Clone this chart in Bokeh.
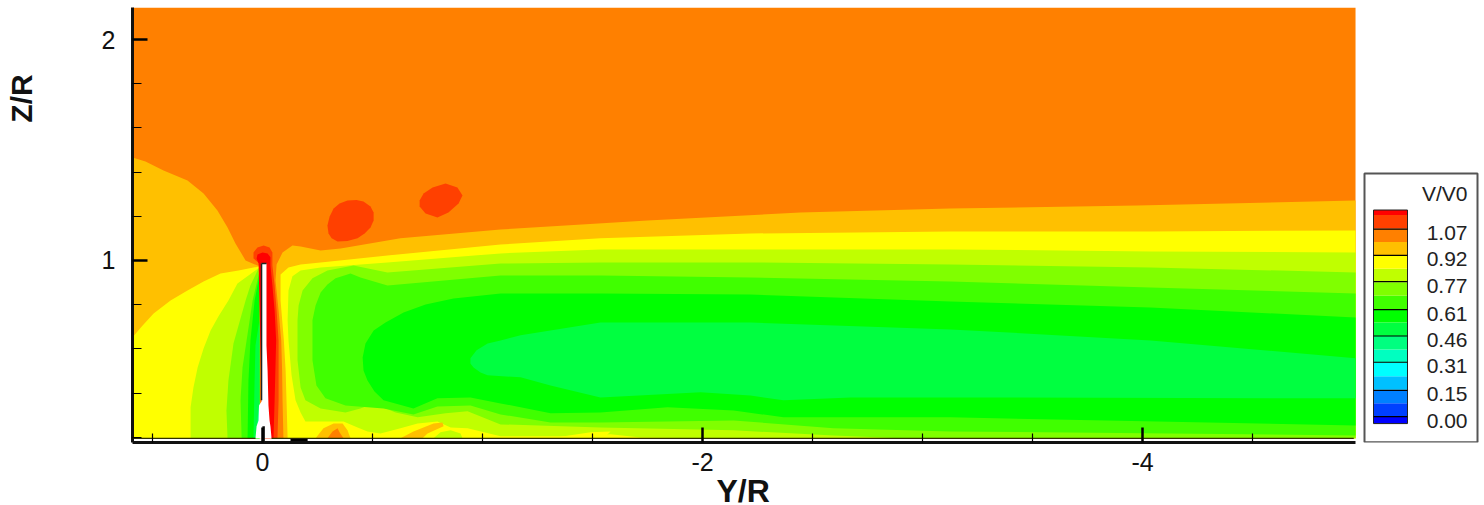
from bokeh.plotting import figure
from bokeh.layouts import row
from bokeh.models import Range1d, FixedTicker, Title
from bokeh.embed import file_html
from bokeh.resources import INLINE
import math

FONT = "Liberation Sans"
BOTTOM = 0.195
END = -4.968

# Colour levels of V/V0
LEGEND_TICKS = [0.00, 0.15, 0.31, 0.46, 0.61, 0.77, 0.92, 1.07]
LEVEL_EDGES = [-0.04, 0.0, 0.0767, 0.1533, 0.23, 0.3067, 0.3833, 0.46, 0.5367, 0.6133,
               0.69, 0.7667, 0.8433, 0.92, 0.9967, 1.0733, 1.15, 1.179]
LEVEL_COLORS = ["#0000ff", "#0040ff", "#0080ff", "#00c0ff", "#00ffff", "#00ffc0", "#00ff80", "#00ff40",
                "#00ff00", "#40ff00", "#80ff00", "#c0ff00", "#ffff00", "#ffc000", "#ff8000", "#ff4000", "#ff0000"]

# Contour regions, Y/R and Z/R, upstream of the blade
UP_C0_Y = [0.591, 0.532, 0.45, 0.341, 0.268, 0.205, 0.159, 0.123, 0.077, 0.023, 0.014, 0.014, 0.591]
UP_C0_Z = [1.466, 1.448, 1.407, 1.362, 1.303, 1.226, 1.149, 1.077, 1.0, 0.977, 0.977, BOTTOM, BOTTOM]
UP_Y_Y = [0.014, 0.109, 0.191, 0.268, 0.341, 0.418, 0.495, 0.545, 0.591, 0.591, 0.014]
UP_Y_Z = [0.973, 0.955, 0.941, 0.905, 0.864, 0.819, 0.76, 0.706, 0.652, BOTTOM, BOTTOM]
UP_LG_Y = [0.014, 0.114, 0.155, 0.2, 0.236, 0.268, 0.295, 0.314, 0.327, 0.327, 0.014]
UP_LG_Z = [0.968, 0.896, 0.819, 0.747, 0.683, 0.602, 0.516, 0.425, 0.335, BOTTOM, BOTTOM]
UP_80_Y = [0.018, 0.055, 0.077, 0.132, 0.155, 0.164, 0.159, 0.014]
UP_80_Z = [0.964, 0.887, 0.819, 0.624, 0.457, 0.321, BOTTOM, BOTTOM]
UP_40_Y = [0.014, 0.045, 0.091, 0.1, 0.095, 0.014]
UP_40_Z = [0.95, 0.819, 0.516, 0.367, BOTTOM, BOTTOM]
UP_00_Y = [0.014, 0.036, 0.055, 0.064, 0.068, 0.014]
UP_00_Z = [0.932, 0.819, 0.638, 0.457, BOTTOM, BOTTOM]
UP_G1_Y = [0.014, 0.032, 0.036, 0.041, 0.014]
UP_G1_Z = [0.729, 0.615, 0.457, BOTTOM, BOTTOM]
UP_G2_Y = [0.014, 0.023, 0.027, 0.014]
UP_G2_Z = [0.367, 0.276, BOTTOM, BOTTOM]

# Contour regions, wake behind the blade
W_C0_Y = [END, -3.977, -3.127, -2.445, -1.75, -1.082, -0.627, -0.355, -0.264, -0.173, -0.136, -0.091, -0.064,
          -0.059, -0.073, -0.085, -0.089, -0.091, -0.095, END]
W_C0_Z = [1.271, 1.249, 1.235, 1.217, 1.181, 1.14, 1.1, 1.054, 1.045, 1.063, 1.068, 1.036, 0.982,
          0.909, 0.774, 0.638, 0.502, 0.367, BOTTOM, BOTTOM]
W_Y_Y = [END, -4.036, -3.127, -2.218, -1.536, -1.082, -0.568, -0.264, -0.173, -0.118, -0.082, -0.082, -0.097,
         -0.105, -0.109, -0.114, END]
W_Y_Z = [1.136, 1.131, 1.131, 1.122, 1.1, 1.072, 1.023, 0.991, 0.982, 0.968, 0.937, 0.819, 0.638,
         0.502, 0.367, BOTTOM, BOTTOM]
W_LG_Y = [END, -4.036, -3.127, -2.218, -1.536, -1.082, -0.568, -0.264, -0.173, -0.136, -0.118, -0.114, -0.118,
          -0.132, -0.15, -0.173, -0.195, -0.264, -0.368, -0.432, -0.477, -0.536, -0.627, -0.705, -0.795, -0.855,
          -0.932, -1.082, -1.355, -1.582, -1.718, -1.991, END]
W_LG_Z = [1.036, 1.041, 1.05, 1.05, 1.05, 1.032, 0.991, 0.968, 0.955, 0.928, 0.864, 0.729, 0.638,
          0.48, 0.367, 0.312, 0.271, 0.271, 0.271, 0.244, 0.226, 0.217, 0.24, 0.262, 0.271, 0.244,
          0.24, 0.204, 0.204, 0.213, 0.199, BOTTOM, BOTTOM]
W_80_Y = [END, -4.036, -3.127, -2.218, -1.536, -1.082, -0.568, -0.414, -0.295, -0.227, -0.182, -0.164, -0.159, -0.159, -0.173,
          -0.195, -0.264, -0.377, -0.445, -0.505, -0.605, -0.705, -0.832, -0.932, -1.082, -1.536, -2.141,
          -2.595, -2.9, END]
W_80_Z = [0.946, 0.968, 0.982, 0.991, 0.991, 0.986, 0.946, 0.977, 0.955, 0.919, 0.864, 0.796, 0.729, 0.548, 0.425,
          0.367, 0.33, 0.312, 0.33, 0.353, 0.312, 0.29, 0.308, 0.317, 0.258, 0.244, 0.231,
          0.208, BOTTOM, BOTTOM]
W_40_Y = [END, -4.036, -3.127, -2.218, -1.536, -1.082, -0.568, -0.445, -0.4, -0.332, -0.295, -0.264, -0.241, -0.227, -0.227,
          -0.245, -0.286, -0.377, -0.55, -0.686, -0.795, -0.945, -1.082, -1.309, -1.536, -2.141, -2.595,
          -3.127, END]
W_40_Z = [0.851, 0.878, 0.905, 0.923, 0.932, 0.932, 0.887, 0.923, 0.941, 0.919, 0.891, 0.855, 0.796, 0.729, 0.548,
          0.434, 0.376, 0.344, 0.33, 0.303, 0.339, 0.344, 0.303, 0.267, 0.267, 0.276, 0.24,
          0.226, 0.208]
W_00_Y = [END, -4.036, -3.127, -2.218, -1.536, -1.082, -0.868, -0.741, -0.641, -0.559, -0.505, -0.468, -0.455, -0.459, -0.477, -0.509, -0.55, -0.686,
          -0.795, -0.945, -1.082, -1.309, -1.536, -1.841, -2.141, -2.368, -2.75, -3.127, END]
W_00_Z = [0.742, 0.787, 0.814, 0.846, 0.851, 0.851, 0.828, 0.801, 0.765, 0.719, 0.683, 0.624, 0.561, 0.502, 0.457, 0.407, 0.367, 0.33,
          0.376, 0.38, 0.353, 0.308, 0.312, 0.335, 0.321, 0.29, 0.29, 0.29, 0.253]
W_G1_Y = [END, -4.036, -3.127, -2.218, -1.536, -1.173, -1.082, -1.023, -0.973, -0.945, -0.945, -0.959, -0.991, -1.023, -1.173, -1.309, -1.536,
          -1.991, -2.218, -2.368, -2.673, -3.127, END]
W_G1_Z = [0.557, 0.638, 0.688, 0.719, 0.719, 0.661, 0.638, 0.624, 0.593, 0.557, 0.534, 0.516, 0.493, 0.48, 0.471, 0.434, 0.38,
          0.403, 0.389, 0.367, 0.38, 0.38, 0.376]

# Tip vortex and the fast strip beside the blade
TIP_40_Y = [0.014, 0.041, 0.041, 0.023, -0.005, -0.032, -0.045, -0.045, -0.045, -0.055, -0.064, -0.073, -0.073, -0.068, 0]
TIP_40_Z = [0.986, 1.009, 1.036, 1.059, 1.068, 1.059, 1.036, 1.009, 0.977, 0.887, 0.774, 0.638, 0.367, BOTTOM, BOTTOM]
TIP_00_Y = [0.018, 0.027, 0.023, 0, -0.023, -0.036, -0.036, -0.045, -0.055, -0.062, -0.055, -0.05, 0]
TIP_00_Z = [0.986, 1.009, 1.027, 1.036, 1.032, 1.014, 0.977, 0.887, 0.774, 0.638, 0.367, BOTTOM, BOTTOM]

# Patches above the wake
BLOB_A_Y = [-0.295, -0.305, -0.323, -0.35, -0.386, -0.427, -0.459, -0.491, -0.505, -0.505, -0.491, -0.464, -0.432, -0.386, -0.341, -0.314, -0.3]
BLOB_A_Z = [1.158, 1.199, 1.235, 1.258, 1.271, 1.274, 1.267, 1.244, 1.217, 1.181, 1.149, 1.122, 1.1, 1.088, 1.086, 1.1, 1.122]
BLOB_B_Y = [-0.714, -0.732, -0.773, -0.832, -0.886, -0.909, -0.891, -0.845, -0.795, -0.741, -0.714]
BLOB_B_Z = [1.271, 1.303, 1.33, 1.348, 1.33, 1.294, 1.258, 1.217, 1.195, 1.213, 1.244]

# Patches at the floor
BUMP1_Y = [-0.241, -0.277, -0.323, -0.364, -0.386, -0.4]
BUMP1_Z = [BOTTOM, 0.24, 0.262, 0.262, 0.231, BOTTOM]
BUMP1B_Y = [-0.295, -0.318, -0.341, -0.35, -0.368]
BUMP1B_Z = [BOTTOM, 0.226, 0.24, 0.222, BOTTOM]
BUMP2_Y = [-0.627, -0.686, -0.777, -0.818, -0.823, -0.75, -0.727]
BUMP2_Z = [BOTTOM, 0.226, 0.262, 0.267, 0.249, 0.217, BOTTOM]
ISLE_Y = [-0.777, -0.809, -0.855, -0.9, -0.909]
ISLE_Z = [BOTTOM, 0.222, 0.231, 0.217, BOTTOM]
STREAK_Y = [-1.332, -1.491, -1.582, -1.559, -1.445]
STREAK_Z = [0.199, 0.222, 0.226, 0.204, BOTTOM]

# Blade section
BLADE_Y = [0.0045, -0.018, -0.018, -0.018, -0.023, -0.027, -0.032, -0.036, -0.041, 0.032, 0.027, 0.018, 0.016, 0.0045, 0.0045]
BLADE_Z = [0.986, 0.986, 0.819, 0.615, 0.502, 0.344, 0.276, 0.249, BOTTOM, BOTTOM, 0.249, 0.276, 0.344, 0.362, 0.502]

C00, C40 = "#ff0000", "#ff4000"
C80, CC0 = "#ff8000", "#ffc000"
CY, CLG, C8G, C4G, CG, CG1, CG2 = "#ffff00", "#c0ff00", "#80ff00", "#40ff00", "#00ff00", "#00ff40", "#00ff80"

LAYERS = [
    (CC0, UP_C0_Y, UP_C0_Z), (CY, UP_Y_Y, UP_Y_Z), (CLG, UP_LG_Y, UP_LG_Z), (C8G, UP_80_Y, UP_80_Z),
    (C4G, UP_40_Y, UP_40_Z), (CG, UP_00_Y, UP_00_Z), (CG1, UP_G1_Y, UP_G1_Z), (CG2, UP_G2_Y, UP_G2_Z),
    (CC0, W_C0_Y, W_C0_Z), (CY, W_Y_Y, W_Y_Z), (CLG, W_LG_Y, W_LG_Z), (C8G, W_80_Y, W_80_Z),
    (C4G, W_40_Y, W_40_Z), (CG, W_00_Y, W_00_Z), (CG1, W_G1_Y, W_G1_Z),
    (C40, TIP_40_Y, TIP_40_Z), (C00, TIP_00_Y, TIP_00_Z),
    (C40, BLOB_A_Y, BLOB_A_Z), (C40, BLOB_B_Y, BLOB_B_Z),
    (CC0, BUMP1_Y, BUMP1_Z), (C80, BUMP1B_Y, BUMP1B_Z), (CC0, BUMP2_Y, BUMP2_Z),
    (CLG, ISLE_Y, ISLE_Z), (CY, STREAK_Y, STREAK_Z),
    ("#ffffff", BLADE_Y, BLADE_Z),
]

# Strip with the rotated Z/R label
zr = figure(output_backend="svg", toolbar_location=None, x_range=Range1d(0, 40), y_range=Range1d(0, 490),
            frame_width=40, frame_height=490, min_border=0, x_axis_location=None, y_axis_location=None,
            margin=(0, 0, 0, 0), outline_line_color=None)
zr.xgrid.visible = False
zr.ygrid.visible = False
zr.text(x=[21], y=[399], text=["Z/R"], angle=math.pi / 2, text_align="center", text_baseline="alphabetic",
        text_font={"value": FONT}, text_font_style="bold", text_font_size={"value": "30px"}, text_color="#111111")

# Frame runs on to the right so that the legend box can share it; x and y of the box have scales of their own
p = figure(output_backend="svg", toolbar_location=None,
           x_range=Range1d(0.591, -5.536), y_range=Range1d(0.176, 2.145),
           frame_width=1348, frame_height=435, min_border_left=92, min_border_right=0,
           min_border_top=7, min_border_bottom=62, margin=(0, 0, 0, 0), outline_line_color=None)
p.xgrid.visible = False
p.ygrid.visible = False
p.background_fill_color = "#ffffff"
p.extra_x_ranges = {"box": Range1d(-1232, 116)}
p.extra_y_ranges = {"lev": Range1d(-0.148, 2.335)}

p.quad(left=[0.591], right=[END], bottom=[BOTTOM], top=[2.145], fill_color=C80, line_color=None)
for color, ys, zs in LAYERS:
    p.patch(ys, zs, fill_color=color, line_color=None)

p.line([0.0045, 0.0045], [0.986, 0.367], line_color="#222222", line_width=1.5)
p.line([0.0045, -0.018], [0.986, 0.986], line_color="#222222", line_width=1.5)
p.line([-0.005, -0.005], [0.25, 0.176], line_color="#111111", line_width=2.5)
p.line([0.591, 0.032], [BOTTOM, BOTTOM], line_color="#333300", line_width=1.2)
p.line([-0.041, -4.96], [BOTTOM, BOTTOM], line_color="#333300", line_width=1.2)
p.line([-0.127, -0.205], [0.186, 0.186], line_color="#000000", line_width=3)

for ax, major, minor in (
    (p.xaxis[0], [0, -2, -4], [0.5, -0.5, -1, -1.5, -2.5, -3, -3.5, -4.5]),
    (p.yaxis[0], [1, 2], [0.2, 0.4, 0.6, 0.8, 1.2, 1.4, 1.6, 1.8]),
):
    ax.ticker = FixedTicker(ticks=major, minor_ticks=minor)
    ax.major_tick_in = 15
    ax.major_tick_out = 0
    ax.minor_tick_in = 9
    ax.minor_tick_out = 0
    ax.major_tick_line_color = "#000000"
    ax.minor_tick_line_color = "#000000"
    ax.major_tick_line_width = 2.5
    ax.minor_tick_line_width = 1.2
    ax.axis_line_color = "#111111"
    ax.axis_line_width = 3
    ax.major_label_text_font = FONT
    ax.major_label_text_font_size = "25px"
    ax.major_label_text_color = "#111111"
    ax.major_label_standoff = 17
p.xaxis[0].bounds = (END, 0.591)
p.xaxis[0].major_label_standoff = 10
p.yaxis[0].major_label_orientation = "horizontal"
p.xaxis[0].major_label_overrides = {0: "0", -2: "-2", -4: "-4"}

# Legend box on scales of its own
kw = dict(x_range_name="box", y_range_name="lev")
p.quad(left=[0], right=[113], bottom=[-0.146], top=[1.387], fill_color="#ffffff",
       line_color="#555555", line_width=2, **kw)
p.quad(left=[9] * len(LEVEL_COLORS), right=[43] * len(LEVEL_COLORS),
       bottom=LEVEL_EDGES[:-1], top=LEVEL_EDGES[1:], fill_color=LEVEL_COLORS, line_color=None, **kw)
p.quad(left=[9], right=[43], bottom=[LEVEL_EDGES[0]], top=[LEVEL_EDGES[-1]], fill_color=None,
       line_color="#222222", line_width=1, **kw)
p.multi_line([[9, 43]] * len(LEGEND_TICKS), [[t, t] for t in LEGEND_TICKS], line_color="#000000", line_width=1.2, **kw)
p.text(x=[103] * len(LEGEND_TICKS), y=LEGEND_TICKS, text=[f"{t:.2f}" for t in LEGEND_TICKS],
       text_align="right", text_baseline="middle", y_offset=4, text_font={"value": FONT},
       text_font_size={"value": "21px"}, text_color="#222222", **kw)
p.text(x=[103], y=[1.273], text=["V/V0"], text_align="right", text_baseline="middle",
       text_font={"value": FONT}, text_font_size={"value": "21px"}, text_color="#222222", **kw)

p.add_layout(Title(text="Y/R", align="left", offset=584, standoff=-6, text_font=FONT, text_font_style="bold",
                   text_font_size="32px", text_color="#111111"), "below")

layout = row(zr, p)
open("out.html", "w").write(file_html(layout, INLINE))
